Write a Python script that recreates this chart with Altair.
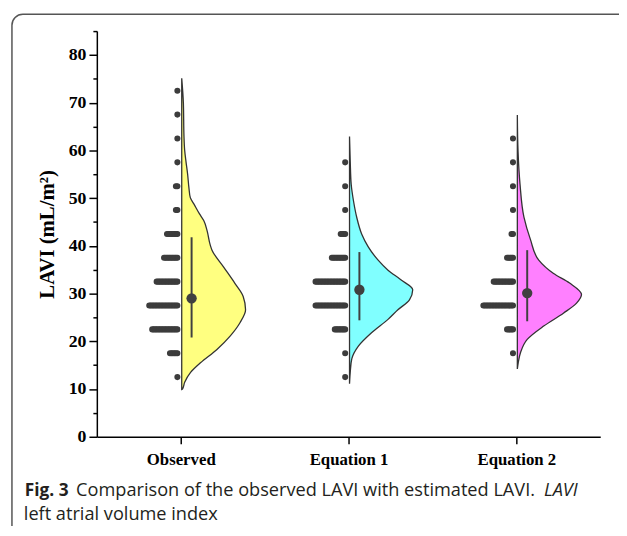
import altair as alt
import pandas as pd

# ---------------- data ----------------
categories = ["Observed", "Equation 1", "Equation 2"]
fill_colors = ["#FFFF80", "#80FFFF", "#FF80FF"]

bin_centers = [12.5, 17.5, 22.5, 27.5, 32.5, 37.5, 42.5, 47.5, 52.5, 57.5, 62.5, 67.5, 72.5]
counts_observed = [1, 6, 18, 20, 15, 10, 8, 2, 2, 1, 1, 1, 1]
counts_eq1 = [1, 1, 8, 21, 21, 10, 4, 1, 1, 1, 0, 0, 0]
counts_eq2 = [0, 1, 5, 21, 14, 5, 2, 1, 1, 1, 1, 0, 0]

means = [29.0, 30.8, 30.1]
whisker_low = [20.8, 24.4, 24.2]
whisker_high = [41.8, 38.7, 39.1]

# half-violin density profiles (relative density, max ~1)
kde_obs_y = [9.9, 10.0, 11.4, 13.5, 15.5, 18.3, 21.1, 23.9, 26.6, 29.4, 32.1, 35.6, 39.1,
             40.1, 43.2, 45.3, 46.7, 48.8, 50.1, 52.2, 55.0, 57.7, 60.0, 63.0, 69.9, 75.1]
kde_obs_d = [0, 0.011, 0.046, 0.138, 0.292, 0.549, 0.754, 0.908, 0.995, 0.958, 0.831, 0.651, 0.472,
             0.446, 0.395, 0.343, 0.277, 0.189, 0.134, 0.112, 0.092, 0.066, 0.046, 0.035, 0.026, 0]
kde_eq1_y = [11.1, 13.5, 16.3, 19.0, 21.8, 24.6, 26.6, 28.7, 30.8, 32.9, 34.9, 37.0, 39.8,
             42.5, 46.0, 49.4, 52.9, 57.7, 62.9]
kde_eq1_d = [0, 0.011, 0.035, 0.138, 0.343, 0.6, 0.754, 0.934, 0.985, 0.8, 0.6, 0.446, 0.292,
             0.189, 0.112, 0.062, 0.026, 0.011, 0]
kde_eq2_y = [14.2, 15.6, 17.7, 20.4, 23.2, 25.9, 28.0, 29.8, 32.2, 34.2, 37.0, 41.3, 46.0,
             52.9, 59.8, 67.4]
kde_eq2_d = [0, 0.015, 0.051, 0.154, 0.411, 0.718, 0.923, 1.0, 0.815, 0.565, 0.334, 0.205, 0.103,
             0.042, 0.011, 0]

y_major = [0, 10, 20, 30, 40, 50, 60, 70, 80]
y_minor = [5, 15, 25, 35, 45, 55, 65, 75, 85]

# ---------------- layout constants ----------------
W, H = 510, 411
PXU = W / 3.0            # pixels per category unit on the x scale
VIOLIN_PX = 65           # max half-width of violin in px
BASE_GAP = 1             # violin baseline offset from tick (px)
DOT_R = 3.4
DOT_STEP = 1.5
MEAN_OFF = 11

dens_sets = [(kde_obs_y, kde_obs_d), (kde_eq1_y, kde_eq1_d), (kde_eq2_y, kde_eq2_d)]
count_sets = [counts_observed, counts_eq1, counts_eq2]

vrows, drows, mrows = [], [], []
for gi, cat in enumerate(categories):
    c = gi + 0.5
    ys, ds = dens_sets[gi]
    for yv, dv in zip(ys, ds):
        vrows.append({"group": cat, "value": yv,
                      "x0": c + BASE_GAP / PXU,
                      "x1": c + (BASE_GAP + dv * VIOLIN_PX) / PXU})
    for b, n in zip(bin_centers, count_sets[gi]):
        for k in range(n):
            drows.append({"group": cat, "value": b, "x": c - (DOT_R + k * DOT_STEP) / PXU})
    mrows.append({"group": cat, "mean": means[gi], "lo": whisker_low[gi],
                  "hi": whisker_high[gi], "x": c + MEAN_OFF / PXU})

vdf = pd.DataFrame(vrows)
ddf = pd.DataFrame(drows)
mdf = pd.DataFrame(mrows)

label_expr = "[" + ",".join("'" + s + "'" for s in categories) + "][floor(datum.value)]"

xscale = alt.Scale(domain=[0, 3], nice=False, zero=False)
yscale = alt.Scale(domain=[0, 85], nice=False, zero=False)

x_axis = alt.Axis(values=[0.5, 1.5, 2.5], labelExpr=label_expr, title="", grid=False,
                  tickSize=7, tickWidth=1.5, domainWidth=1.5, domainColor="black",
                  tickColor="black", labelPadding=8, labelFont="Liberation Serif",
                  labelFontWeight="bold", labelFontSize=17, labelColor="black")

y_axis = alt.Axis(values=y_major, orient="left", grid=False, tickSize=8, tickWidth=1.5,
                  domainWidth=1.5, domainColor="black", tickColor="black", labelPadding=3,
                  labelFont="Liberation Serif", labelFontWeight="bold", labelFontSize=18,
                  labelColor="black", title="LAVI (mL/m²)", titleFont="Liberation Serif",
                  titleFontWeight="bold", titleFontSize=21, titleColor="black", titlePadding=11)

y_axis_minor = alt.Axis(values=y_minor, orient="left", grid=False, tickSize=4, tickWidth=1.5,
                        domain=False, tickColor="black", labels=False, title="")

violin = alt.Chart(vdf).mark_area(orient="horizontal", interpolate="monotone",
                                  stroke="#333333", strokeWidth=1.3, fillOpacity=1).encode(
    x=alt.X("x1:Q", scale=xscale, axis=x_axis),
    x2="x0:Q",
    y=alt.Y("value:Q", scale=yscale, axis=y_axis),
    color=alt.Color("group:N", scale=alt.Scale(domain=categories, range=fill_colors), legend=None),
    detail="group:N",
)

dots = alt.Chart(ddf).mark_circle(size=38, color="#3c3c3c", opacity=1).encode(
    x=alt.X("x:Q", scale=xscale, axis=None),
    y=alt.Y("value:Q", scale=yscale, axis=y_axis_minor),
)

whisk = alt.Chart(mdf).mark_rule(color="#404040", strokeWidth=2).encode(
    x=alt.X("x:Q", scale=xscale, axis=None),
    y=alt.Y("lo:Q", scale=yscale, axis=None),
    y2="hi:Q",
)

mean_pt = alt.Chart(mdf).mark_circle(size=110, color="#404040", opacity=1).encode(
    x=alt.X("x:Q", scale=xscale, axis=None),
    y=alt.Y("mean:Q", scale=yscale, axis=None),
)

one = alt.Data(values=[{"k": 1}])

def caption(txt, x, y, size, weight="normal", style="normal"):
    return alt.Chart(one).mark_text(text=txt, align="left", baseline="alphabetic",
                                    font="Open Sans", fontSize=size, fontWeight=weight,
                                    fontStyle=style, color="#231f20").encode(
        x=alt.value(x), y=alt.value(y))

cap1 = caption("Fig. 3", -73, 471, 17.5, weight="bold")
cap2 = caption("Comparison of the observed LAVI with estimated LAVI.", -21, 471, 18.4)
cap3 = caption("LAVI", 453, 471, 18.4, style="italic")
cap4 = caption("left atrial volume index", -74, 495, 18.4)

frame = alt.Chart(one).mark_rect(filled=False, stroke="#555555", strokeWidth=1.5,
                                 cornerRadius=11).encode(
    x=alt.value(-86), x2=alt.value(545), y=alt.value(-17), y2=alt.value(520))

chart = alt.layer(violin, dots, whisk, mean_pt, cap1, cap2, cap3, cap4, frame).resolve_axis(
    y="independent", x="independent"
).properties(
    width=W, height=H,
    padding={"left": 90, "top": 20, "right": 19, "bottom": 87},
    autosize=alt.AutoSizeParams(type="none"),
    background="white",
).configure_view(strokeWidth=0)

chart.save("out.html", embed_options={"renderer": "svg", "actions": False})
